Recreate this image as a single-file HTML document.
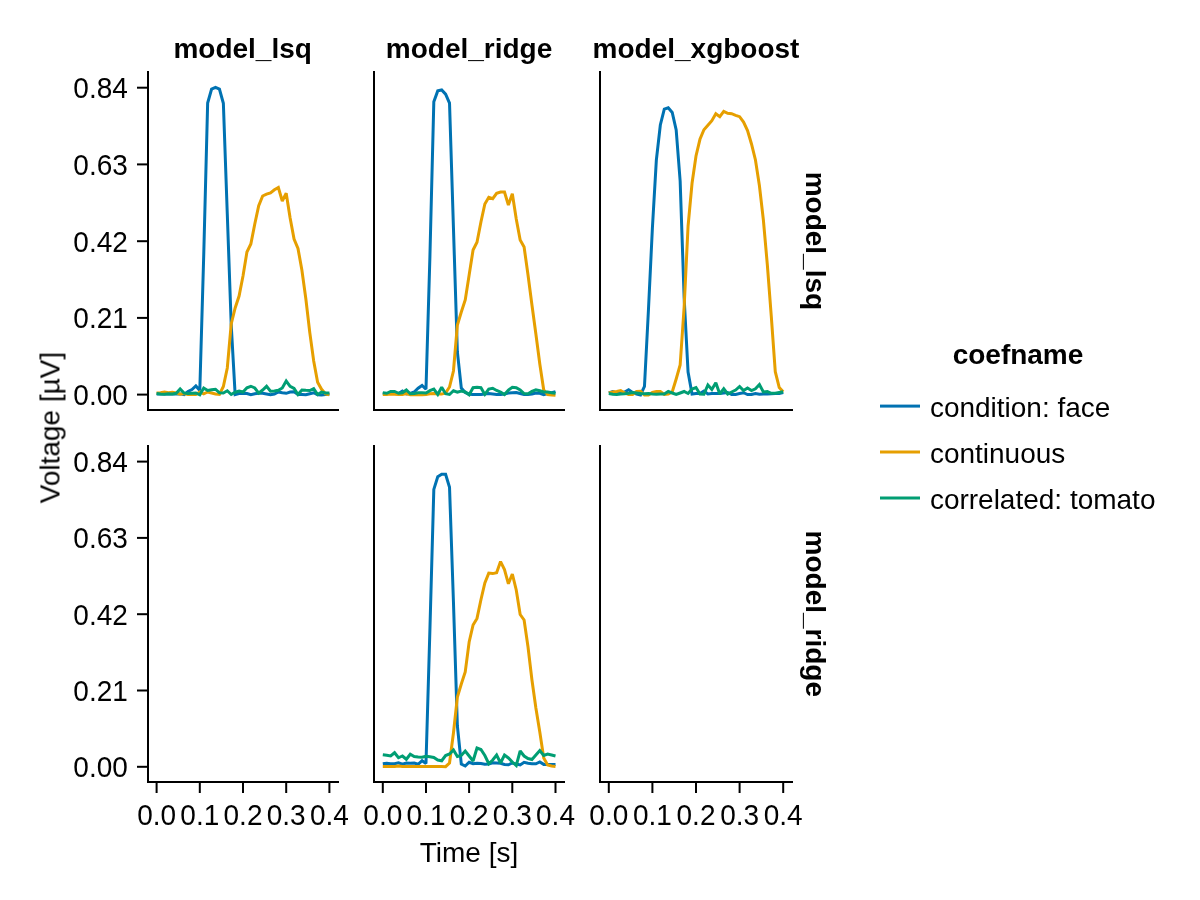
<!DOCTYPE html><html><head><meta charset="utf-8"><title>plot</title><style>html,body{margin:0;padding:0;background:#fff;overflow:hidden;width:1200px;height:900px;}svg{display:block;}</style></head><body>
<svg width="1200" height="900" viewBox="0 0 1200 900">
<rect x="0" y="0" width="1200" height="900" fill="#ffffff"/>
<rect x="147" y="71" width="2" height="340" fill="#000"/>
<rect x="147" y="409" width="192" height="2" fill="#000"/>
<rect x="373" y="71" width="2" height="340" fill="#000"/>
<rect x="373" y="409" width="192" height="2" fill="#000"/>
<rect x="599" y="71" width="2" height="340" fill="#000"/>
<rect x="599" y="409" width="194" height="2" fill="#000"/>
<rect x="147" y="445" width="2" height="338" fill="#000"/>
<rect x="147" y="781" width="192" height="2" fill="#000"/>
<rect x="373" y="445" width="2" height="338" fill="#000"/>
<rect x="373" y="781" width="192" height="2" fill="#000"/>
<rect x="599" y="445" width="2" height="338" fill="#000"/>
<rect x="599" y="781" width="194" height="2" fill="#000"/>
<rect x="137" y="86.70" width="10" height="2" fill="#000"/>
<rect x="137" y="163.40" width="10" height="2" fill="#000"/>
<rect x="137" y="240.20" width="10" height="2" fill="#000"/>
<rect x="137" y="316.90" width="10" height="2" fill="#000"/>
<rect x="137" y="393.60" width="10" height="2" fill="#000"/>
<rect x="137" y="460.60" width="10" height="2" fill="#000"/>
<rect x="137" y="536.90" width="10" height="2" fill="#000"/>
<rect x="137" y="613.20" width="10" height="2" fill="#000"/>
<rect x="137" y="689.50" width="10" height="2" fill="#000"/>
<rect x="137" y="765.80" width="10" height="2" fill="#000"/>
<rect x="155.60" y="783" width="2" height="10" fill="#000"/>
<rect x="198.80" y="783" width="2" height="10" fill="#000"/>
<rect x="242.00" y="783" width="2" height="10" fill="#000"/>
<rect x="285.20" y="783" width="2" height="10" fill="#000"/>
<rect x="328.40" y="783" width="2" height="10" fill="#000"/>
<rect x="381.80" y="783" width="2" height="10" fill="#000"/>
<rect x="425.00" y="783" width="2" height="10" fill="#000"/>
<rect x="468.10" y="783" width="2" height="10" fill="#000"/>
<rect x="511.30" y="783" width="2" height="10" fill="#000"/>
<rect x="554.50" y="783" width="2" height="10" fill="#000"/>
<rect x="607.80" y="783" width="2" height="10" fill="#000"/>
<rect x="651.40" y="783" width="2" height="10" fill="#000"/>
<rect x="695.00" y="783" width="2" height="10" fill="#000"/>
<rect x="738.60" y="783" width="2" height="10" fill="#000"/>
<rect x="782.20" y="783" width="2" height="10" fill="#000"/>
<polyline points="156.60,393.90 160.53,393.90 164.45,393.90 168.38,393.90 172.31,393.90 176.24,393.90 180.16,393.90 184.09,394.75 188.02,391.50 191.95,389.50 195.87,386.00 199.80,390.50 203.73,255.00 207.65,103.00 211.58,89.00 215.51,87.30 219.44,89.00 223.36,103.30 227.29,214.00 231.22,325.00 235.15,394.50 239.07,393.50 243.00,393.25 246.93,393.50 250.85,394.75 254.78,393.75 258.71,393.30 262.64,393.30 266.56,394.00 270.49,394.70 274.42,394.00 278.35,392.00 282.27,392.70 286.20,393.30 290.13,392.00 294.05,391.80 297.98,394.50 301.91,394.50 305.84,394.75 309.76,393.75 313.69,392.75 317.62,394.75 321.55,395.00 325.47,394.50 329.40,394.00" fill="none" stroke="#0072b2" stroke-width="3" stroke-linejoin="miter" stroke-miterlimit="2"/>
<polyline points="156.60,393.00 160.53,392.75 164.45,392.00 168.38,392.75 172.31,392.25 176.24,393.00 180.16,394.25 184.09,393.50 188.02,394.50 191.95,394.50 195.87,394.50 199.80,392.00 203.73,393.75 207.65,392.00 211.58,393.00 215.51,394.00 219.44,394.50 223.36,386.50 227.29,368.00 231.22,324.00 235.15,308.00 239.07,296.00 243.00,276.00 246.93,252.00 250.85,244.00 254.78,224.00 258.71,205.80 262.64,196.00 266.56,194.20 270.49,192.90 274.42,189.80 278.35,187.60 282.27,201.00 286.20,193.30 290.13,218.00 294.05,239.00 297.98,248.40 301.91,270.20 305.84,298.70 309.76,332.40 313.69,360.90 317.62,382.20 321.55,389.30 325.47,393.80 329.40,394.70" fill="none" stroke="#e69f00" stroke-width="3" stroke-linejoin="miter" stroke-miterlimit="2"/>
<polyline points="156.60,393.55 160.53,394.05 164.45,394.30 168.38,393.80 172.31,394.05 176.24,393.30 180.16,389.00 184.09,393.00 188.02,393.50 191.95,393.25 195.87,393.00 199.80,394.75 203.73,388.00 207.65,390.50 211.58,389.75 215.51,389.25 219.44,392.75 223.36,393.00 227.29,390.75 231.22,394.50 235.15,392.25 239.07,391.00 243.00,392.00 246.93,387.75 250.85,386.25 254.78,388.00 258.71,393.20 262.64,390.00 266.56,386.30 270.49,391.30 274.42,391.00 278.35,390.30 282.27,388.00 286.20,381.00 290.13,386.30 294.05,388.50 297.98,394.50 301.91,390.00 305.84,390.30 309.76,390.50 313.69,388.75 317.62,394.50 321.55,392.00 325.47,393.00 329.40,393.00" fill="none" stroke="#009e73" stroke-width="3" stroke-linejoin="miter" stroke-miterlimit="2"/>
<polyline points="382.80,393.50 386.73,393.50 390.65,393.50 394.57,393.50 398.50,393.50 402.43,391.00 406.35,394.00 410.28,393.50 414.20,392.00 418.12,388.25 422.05,385.50 425.98,389.25 429.90,257.00 433.82,101.80 437.75,90.90 441.68,90.00 445.60,94.20 449.52,103.10 453.45,228.00 457.38,352.00 461.30,388.00 465.23,392.50 469.15,394.20 473.07,394.40 477.00,394.50 480.93,394.50 484.85,394.00 488.77,393.50 492.70,394.00 496.62,394.50 500.55,394.50 504.48,394.00 508.40,393.00 512.33,392.75 516.25,392.50 520.17,393.50 524.10,394.50 528.02,394.50 531.95,394.00 535.88,393.00 539.80,393.30 543.73,394.70 547.65,393.50 551.58,392.70 555.50,391.70" fill="none" stroke="#0072b2" stroke-width="3" stroke-linejoin="miter" stroke-miterlimit="2"/>
<polyline points="382.80,394.60 386.73,394.60 390.65,394.10 394.57,394.35 398.50,394.60 402.43,394.60 406.35,393.60 410.28,394.85 414.20,394.85 418.12,394.85 422.05,394.85 425.98,394.60 429.90,393.80 433.82,393.60 437.75,394.10 441.68,394.10 445.60,393.00 449.52,387.00 453.45,371.00 457.38,325.00 461.30,312.00 465.23,300.00 469.15,275.00 473.07,250.00 477.00,242.20 480.93,222.00 484.85,204.00 488.77,197.30 492.70,198.70 496.62,193.30 500.55,192.00 504.48,192.00 508.40,205.00 512.33,193.80 516.25,219.00 520.17,240.00 524.10,247.00 528.02,275.00 531.95,305.00 535.88,334.00 539.80,364.00 543.73,390.00 547.65,394.50 551.58,395.00 555.50,395.30" fill="none" stroke="#e69f00" stroke-width="3" stroke-linejoin="miter" stroke-miterlimit="2"/>
<polyline points="382.80,392.75 386.73,393.25 390.65,391.50 394.57,391.50 398.50,393.25 402.43,392.75 406.35,390.00 410.28,393.75 414.20,393.50 418.12,392.75 422.05,392.75 425.98,393.00 429.90,390.60 433.82,389.10 437.75,394.50 441.68,387.25 445.60,393.75 449.52,394.50 453.45,390.75 457.38,392.25 461.30,391.00 465.23,392.00 469.15,394.75 473.07,387.75 477.00,387.25 480.93,387.75 484.85,394.40 488.77,389.10 492.70,388.25 496.62,390.50 500.55,392.00 504.48,394.50 508.40,390.00 512.33,387.25 516.25,387.75 520.17,390.00 524.10,393.50 528.02,393.75 531.95,391.40 535.88,389.80 539.80,390.80 543.73,391.90 547.65,392.00 551.58,392.70 555.50,393.30" fill="none" stroke="#009e73" stroke-width="3" stroke-linejoin="miter" stroke-miterlimit="2"/>
<polyline points="608.80,393.00 612.76,391.50 616.73,393.00 620.69,393.50 624.65,392.00 628.62,389.75 632.58,392.50 636.55,394.00 640.51,395.00 644.47,386.50 648.44,310.00 652.40,228.00 656.36,160.00 660.33,125.00 664.29,109.20 668.25,107.80 672.22,112.50 676.18,130.00 680.15,181.00 684.11,297.00 688.07,372.00 692.04,394.00 696.00,393.50 699.96,393.50 703.93,391.00 707.89,394.00 711.85,393.50 715.82,393.50 719.78,393.50 723.75,393.00 727.71,392.50 731.67,394.50 735.64,394.50 739.60,393.50 743.56,392.75 747.53,394.50 751.49,394.50 755.45,393.50 759.42,394.25 763.38,394.00 767.35,394.00 771.31,393.80 775.27,393.50 779.24,393.50 783.20,392.50" fill="none" stroke="#0072b2" stroke-width="3" stroke-linejoin="miter" stroke-miterlimit="2"/>
<polyline points="608.80,393.00 612.76,392.00 616.73,391.50 620.69,390.50 624.65,393.00 628.62,394.50 632.58,394.50 636.55,391.50 640.51,391.25 644.47,395.00 648.44,395.00 652.40,392.50 656.36,391.50 660.33,391.50 664.29,394.50 668.25,394.00 672.22,392.00 676.18,379.00 680.15,365.00 684.11,307.50 688.07,226.00 692.04,183.30 696.00,156.00 699.96,139.30 703.93,129.70 707.89,125.30 711.85,120.70 715.82,113.70 719.78,116.70 723.75,111.30 727.71,113.30 731.67,113.70 735.64,115.30 739.60,116.70 743.56,122.00 747.53,130.50 751.49,144.00 755.45,160.00 759.42,185.80 763.38,220.00 767.35,265.00 771.31,316.70 775.27,371.70 779.24,387.50 783.20,391.70" fill="none" stroke="#e69f00" stroke-width="3" stroke-linejoin="miter" stroke-miterlimit="2"/>
<polyline points="608.80,393.50 612.76,394.25 616.73,394.50 620.69,394.00 624.65,393.75 628.62,393.25 632.58,392.50 636.55,393.00 640.51,393.50 644.47,393.75 648.44,393.50 652.40,394.00 656.36,394.25 660.33,393.90 664.29,394.00 668.25,391.50 672.22,393.00 676.18,394.50 680.15,393.00 684.11,391.50 688.07,393.50 692.04,389.00 696.00,387.50 699.96,394.00 703.93,394.25 707.89,385.00 711.85,389.50 715.82,382.70 719.78,394.00 723.75,388.75 727.71,394.00 731.67,392.00 735.64,390.00 739.60,386.50 743.56,390.50 747.53,388.00 751.49,390.50 755.45,388.75 759.42,384.50 763.38,392.00 767.35,391.50 771.31,393.30 775.27,393.30 779.24,392.50 783.20,391.70" fill="none" stroke="#009e73" stroke-width="3" stroke-linejoin="miter" stroke-miterlimit="2"/>
<polyline points="382.80,763.75 386.73,763.25 390.65,763.75 394.57,763.75 398.50,762.75 402.43,764.25 406.35,763.00 410.28,763.25 414.20,763.00 418.12,764.25 422.05,760.75 425.98,763.50 429.90,630.00 433.82,489.40 437.75,476.70 441.68,474.20 445.60,474.20 449.52,487.20 453.45,602.00 457.38,726.00 461.30,764.00 465.23,766.00 469.15,762.25 473.07,763.75 477.00,763.25 480.93,763.50 484.85,764.20 488.77,764.00 492.70,762.75 496.62,763.00 500.55,763.25 504.48,764.50 508.40,764.75 512.33,763.00 516.25,764.00 520.17,765.00 524.10,762.25 528.02,763.25 531.95,763.75 535.88,763.75 539.80,762.00 543.73,764.40 547.65,764.40 551.58,764.40 555.50,764.40" fill="none" stroke="#0072b2" stroke-width="3" stroke-linejoin="miter" stroke-miterlimit="2"/>
<polyline points="382.80,766.50 386.73,766.50 390.65,766.50 394.57,766.50 398.50,766.00 402.43,766.50 406.35,766.50 410.28,766.50 414.20,766.50 418.12,766.50 422.05,766.50 425.98,766.50 429.90,766.50 433.82,766.50 437.75,766.50 441.68,766.50 445.60,766.70 449.52,763.00 453.45,733.00 457.38,697.00 461.30,684.00 465.23,672.00 469.15,642.00 473.07,625.00 477.00,618.40 480.93,599.80 484.85,582.90 488.77,573.10 492.70,573.60 496.62,572.70 500.55,561.60 504.48,569.60 508.40,583.80 512.33,574.00 516.25,590.00 520.17,614.50 524.10,620.00 528.02,647.00 531.95,680.00 535.88,708.00 539.80,732.00 543.73,758.00 547.65,765.00 551.58,766.00 555.50,766.40" fill="none" stroke="#e69f00" stroke-width="3" stroke-linejoin="miter" stroke-miterlimit="2"/>
<polyline points="382.80,754.75 386.73,755.25 390.65,756.00 394.57,752.75 398.50,757.75 402.43,756.00 406.35,759.25 410.28,754.25 414.20,756.50 418.12,757.00 422.05,757.25 425.98,756.25 429.90,756.75 433.82,757.50 437.75,760.00 441.68,760.75 445.60,755.50 449.52,754.00 453.45,750.00 457.38,756.50 461.30,755.50 465.23,751.00 469.15,756.00 473.07,761.00 477.00,748.00 480.93,749.50 484.85,755.50 488.77,763.75 492.70,760.00 496.62,755.00 500.55,763.00 504.48,755.00 508.40,758.00 512.33,762.00 516.25,765.50 520.17,751.00 524.10,756.00 528.02,758.50 531.95,759.50 535.88,755.00 539.80,750.50 543.73,755.50 547.65,754.00 551.58,755.00 555.50,756.00" fill="none" stroke="#009e73" stroke-width="3" stroke-linejoin="miter" stroke-miterlimit="2"/>
<g font-family="Liberation Sans, Arial, sans-serif" font-size="28" fill="#000" opacity="0.999">
<text transform="translate(127.80,98.20) scale(1,1.06)" text-anchor="end">0.84</text>
<text transform="translate(127.80,174.90) scale(1,1.06)" text-anchor="end">0.63</text>
<text transform="translate(127.80,251.70) scale(1,1.06)" text-anchor="end">0.42</text>
<text transform="translate(127.80,328.40) scale(1,1.06)" text-anchor="end">0.21</text>
<text transform="translate(127.80,405.10) scale(1,1.06)" text-anchor="end">0.00</text>
<text transform="translate(127.80,472.10) scale(1,1.06)" text-anchor="end">0.84</text>
<text transform="translate(127.80,548.40) scale(1,1.06)" text-anchor="end">0.63</text>
<text transform="translate(127.80,624.70) scale(1,1.06)" text-anchor="end">0.42</text>
<text transform="translate(127.80,701.00) scale(1,1.06)" text-anchor="end">0.21</text>
<text transform="translate(127.80,777.30) scale(1,1.06)" text-anchor="end">0.00</text>
<text transform="translate(156.60,824.60) scale(1,1.06)" text-anchor="middle">0.0</text>
<text transform="translate(199.80,824.60) scale(1,1.06)" text-anchor="middle">0.1</text>
<text transform="translate(243.00,824.60) scale(1,1.06)" text-anchor="middle">0.2</text>
<text transform="translate(286.20,824.60) scale(1,1.06)" text-anchor="middle">0.3</text>
<text transform="translate(329.40,824.60) scale(1,1.06)" text-anchor="middle">0.4</text>
<text transform="translate(382.80,824.60) scale(1,1.06)" text-anchor="middle">0.0</text>
<text transform="translate(426.00,824.60) scale(1,1.06)" text-anchor="middle">0.1</text>
<text transform="translate(469.10,824.60) scale(1,1.06)" text-anchor="middle">0.2</text>
<text transform="translate(512.30,824.60) scale(1,1.06)" text-anchor="middle">0.3</text>
<text transform="translate(555.50,824.60) scale(1,1.06)" text-anchor="middle">0.4</text>
<text transform="translate(608.80,824.60) scale(1,1.06)" text-anchor="middle">0.0</text>
<text transform="translate(652.40,824.60) scale(1,1.06)" text-anchor="middle">0.1</text>
<text transform="translate(696.00,824.60) scale(1,1.06)" text-anchor="middle">0.2</text>
<text transform="translate(739.60,824.60) scale(1,1.06)" text-anchor="middle">0.3</text>
<text transform="translate(783.20,824.60) scale(1,1.06)" text-anchor="middle">0.4</text>
<text transform="translate(469.00,861.80) scale(1,1.02)" text-anchor="middle">Time [s]</text>
<text transform="translate(59.00,427.60) rotate(-90) scale(1,1.02)" text-anchor="middle">Voltage [µV]</text>
<text transform="translate(242.60,58.40) scale(1,1.02)" text-anchor="middle" font-weight="bold">model_lsq</text>
<text transform="translate(469.00,58.40) scale(1,1.02)" text-anchor="middle" font-weight="bold">model_ridge</text>
<text transform="translate(696.00,58.40) scale(1,1.02)" text-anchor="middle" font-weight="bold">model_xgboost</text>
<text transform="translate(806.00,240.90) rotate(90) scale(1,1.02)" text-anchor="middle" font-weight="bold">model_lsq</text>
<text transform="translate(806.00,613.80) rotate(90) scale(1,1.02)" text-anchor="middle" font-weight="bold">model_ridge</text>
<text transform="translate(1018.00,364.20) scale(1,1.02)" text-anchor="middle" font-weight="bold">coefname</text>
<rect x="880" y="404.60" width="40" height="3" fill="#0072b2"/>
<text transform="translate(929.90,416.70) scale(1,1.02)">condition: face</text>
<rect x="880" y="450.50" width="40" height="3" fill="#e69f00"/>
<text transform="translate(929.90,462.60) scale(1,1.02)">continuous</text>
<rect x="880" y="496.50" width="40" height="3" fill="#009e73"/>
<text transform="translate(929.90,508.60) scale(1,1.02)">correlated: tomato</text>
</g>
</svg></body></html>
